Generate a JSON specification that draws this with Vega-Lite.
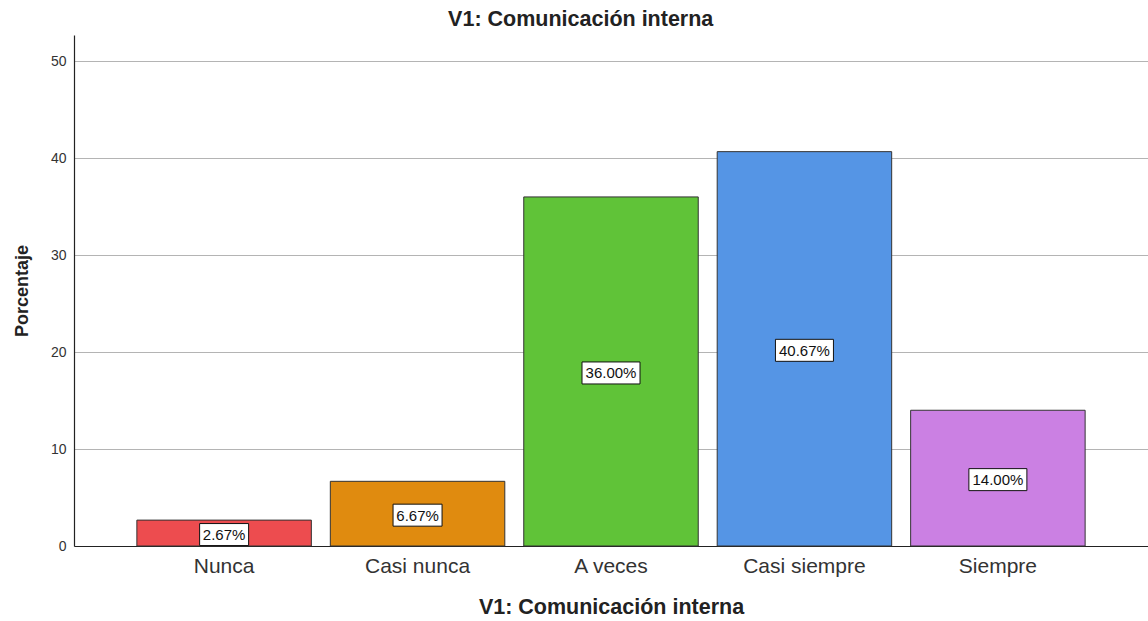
{
  "$schema": "https://vega.github.io/schema/vega-lite/v6.json",
  "width": 1074,
  "height": 511,
  "autosize": {"type": "none"},
  "padding": {"left": 74, "top": 35, "right": 0, "bottom": 75},
  "background": "white",
  "config": {
    "font": "Liberation Sans",
    "view": {"stroke": null}
  },
  "title": {
    "text": "V1: Comunicación interna",
    "fontSize": 21.5,
    "fontWeight": "bold",
    "color": "#222222",
    "anchor": "middle",
    "frame": "bounds",
    "offset": 5
  },
  "data": {
    "values": [
      {"cat": "Nunca", "pct": 2.67, "label": "2.67%"},
      {"cat": "Casi nunca", "pct": 6.67, "label": "6.67%"},
      {"cat": "A veces", "pct": 36.0, "label": "36.00%"},
      {"cat": "Casi siempre", "pct": 40.67, "label": "40.67%"},
      {"cat": "Siempre", "pct": 14.0, "label": "14.00%"}
    ]
  },
  "encoding": {
    "x": {
      "field": "cat",
      "type": "nominal",
      "sort": null,
      "scale": {"paddingInner": 0.098, "paddingOuter": 0.325},
      "axis": {
        "title": "V1: Comunicación interna",
        "titleFontSize": 21.5,
        "titleFontWeight": "bold",
        "titleColor": "#222222",
        "titlePadding": 20,
        "labelAngle": 0,
        "labelFontSize": 21,
        "labelColor": "#333333",
        "labelPadding": 9,
        "ticks": false,
        "domainColor": "#222222",
        "domainWidth": 1.2
      }
    }
  },
  "layer": [
    {
      "mark": {"type": "bar", "stroke": "#333333", "strokeWidth": 1},
      "encoding": {
        "y": {
          "field": "pct",
          "type": "quantitative",
          "scale": {"domain": [0, 52.7], "nice": false},
          "axis": {
            "title": "Porcentaje",
            "titleFontSize": 18,
            "titleFontWeight": "bold",
            "titleColor": "#222222",
            "titlePadding": 19,
            "values": [0, 10, 20, 30, 40, 50],
            "labelFontSize": 14,
            "labelColor": "#333333",
            "labelPadding": 8,
            "ticks": false,
            "domainColor": "#222222",
            "domainWidth": 1.2,
            "grid": true,
            "gridColor": "#b4b4b4",
            "gridWidth": 1
          }
        },
        "color": {
          "field": "cat",
          "type": "nominal",
          "sort": null,
          "scale": {
            "domain": ["Nunca", "Casi nunca", "A veces", "Casi siempre", "Siempre"],
            "range": ["#ED4C4F", "#E08B0F", "#60C338", "#5595E5", "#CB80E3"]
          },
          "legend": null
        }
      }
    },
    {
      "transform": [{"calculate": "datum.pct / 2", "as": "mid"}],
      "mark": {"type": "point", "filled": true, "fill": "white", "stroke": "#111111", "strokeWidth": 1, "opacity": 1, "size": 4, "yOffset": 1.5},
      "encoding": {
        "y": {"field": "mid", "type": "quantitative"},
        "shape": {
          "field": "label",
          "type": "nominal",
          "scale": {
            "domain": ["2.67%", "6.67%", "36.00%", "40.67%", "14.00%"],
            "range": [
              "M-24.5,-11H24.5V11H-24.5Z",
              "M-24.5,-11H24.5V11H-24.5Z",
              "M-29,-11H29V11H-29Z",
              "M-29,-11H29V11H-29Z",
              "M-29,-11H29V11H-29Z"
            ]
          },
          "legend": null
        }
      }
    },
    {
      "transform": [{"calculate": "datum.pct / 2", "as": "mid"}],
      "mark": {"type": "text", "fontSize": 15, "color": "#111111", "baseline": "middle", "align": "center", "yOffset": 2},
      "encoding": {
        "y": {"field": "mid", "type": "quantitative"},
        "text": {"field": "label"}
      }
    }
  ]
}
